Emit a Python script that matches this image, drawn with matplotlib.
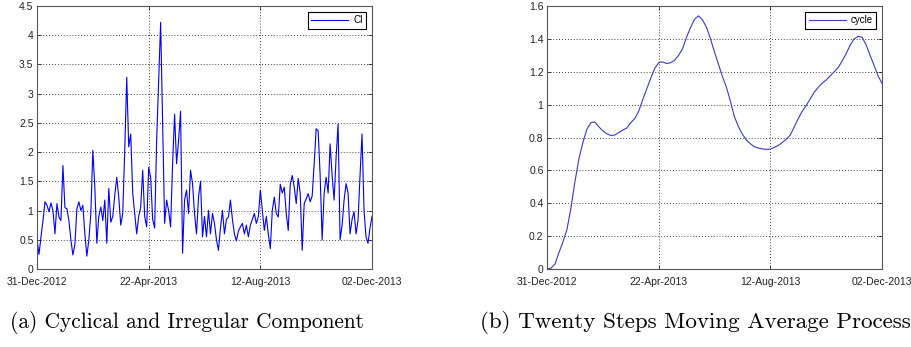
import numpy as np
import pandas as pd
import matplotlib
matplotlib.use("Agg")
import matplotlib.pyplot as plt
import matplotlib.dates as mdates
from matplotlib.ticker import FormatStrFormatter

# cyclical + irregular component, one reading every 2 days from 31-Dec-2012
ci_start = "2012-12-31"
ci_step_days = 2
ci_values = [
    0.5, 0.25, 0.55, 0.83, 1.15, 1.09, 0.98, 1.13, 1.0, 0.6,
    1.12, 0.89, 0.83, 1.77, 1.05, 1.03, 0.83, 0.5, 0.24, 0.42,
    1.03, 1.15, 1.0, 1.09, 0.6, 0.22, 0.5, 0.95, 2.03, 1.4,
    0.44, 0.9, 1.06, 0.83, 1.18, 0.44, 1.38, 0.8, 0.9, 1.26,
    1.57, 1.23, 0.75, 0.95, 2.03, 3.28, 2.09, 2.31, 1.3, 0.95,
    0.6, 0.9, 1.06, 1.69, 0.9, 0.72, 1.74, 1.57,
    0.85, 0.7, 2.2, 3.2, 4.22, 2.5, 0.78, 1.18, 1.0, 0.72,
    1.8, 2.65, 1.8, 2.2, 2.7, 0.27, 1.18, 1.35, 0.95, 1.69,
    1.46, 0.95, 0.6, 1.23, 1.5, 0.55, 0.9, 0.55, 1.0, 0.6,
    0.95, 0.78, 0.5, 0.32, 0.7, 1.0, 0.6, 0.85, 0.89, 1.18,
    0.85, 0.6, 0.48, 0.65, 0.72, 0.78, 0.6, 0.75, 0.55, 0.75,
    0.85, 0.95, 0.78, 0.9, 1.35, 1.0,
    0.66, 0.9, 0.6, 0.35, 1.0, 1.23, 0.95, 0.89, 1.45, 1.3,
    1.4, 0.95, 0.66, 1.45, 1.6, 1.4, 1.12, 1.55, 1.3, 0.32,
    1.12, 1.2, 1.29, 1.15, 1.25, 1.8, 2.4, 2.36, 1.6, 0.5,
    1.3, 1.57, 1.3, 2.14, 1.6, 1.18, 1.91, 2.48, 0.5, 0.75,
    1.18, 1.46, 1.3, 0.6, 0.85, 0.98, 0.6, 0.83, 1.6, 2.31,
    1.0, 0.55, 0.44, 0.7, 0.9,
]

# twenty steps moving average (cycle), one reading every 4 days
cycle_step_days = 4
cycle_values = [
    0.0, 0.005, 0.03, 0.1, 0.165, 0.24, 0.37, 0.53, 0.67, 0.77,
    0.85, 0.89, 0.895, 0.865, 0.84, 0.823, 0.812, 0.815, 0.83, 0.845,
    0.858, 0.89, 0.915, 0.96, 1.03, 1.095, 1.16, 1.22, 1.255, 1.26,
    1.25, 1.255, 1.27, 1.3, 1.34, 1.41, 1.47, 1.52, 1.54, 1.515,
    1.47, 1.4, 1.32, 1.245, 1.17, 1.105, 1.02, 0.926, 0.866, 0.82,
    0.784, 0.762, 0.744, 0.736, 0.73, 0.728, 0.729, 0.74, 0.752, 0.77,
    0.79, 0.815, 0.865, 0.915, 0.96, 0.995, 1.035, 1.075, 1.105, 1.13,
    1.15, 1.175, 1.2, 1.225, 1.265, 1.31, 1.36, 1.4, 1.415, 1.41,
    1.365, 1.3, 1.24, 1.175, 1.13,
]

tick_dates = ["2012-12-31", "2013-04-22", "2013-08-12", "2013-12-02"]
ci_yticks = [0, 0.5, 1, 1.5, 2, 2.5, 3, 3.5, 4, 4.5]
cycle_yticks = [0, 0.2, 0.4, 0.6, 0.8, 1, 1.2, 1.4, 1.6]
captions = ["(a) Cyclical and Irregular Component",
            "(b) Twenty Steps Moving Average Process"]

ci_dates = pd.date_range(ci_start, periods=len(ci_values), freq=f"{ci_step_days}D")
cycle_dates = pd.date_range(ci_start, periods=len(cycle_values), freq=f"{cycle_step_days}D")
ticks = pd.to_datetime(tick_dates)

plt.rcParams["font.family"] = "Liberation Sans"

fig = plt.figure(figsize=(9.12, 3.47), dpi=100)
ax1 = fig.add_axes([37 / 912, 1 - 269 / 347, 335 / 912, 263 / 347])
ax2 = fig.add_axes([547 / 912, 1 - 269 / 347, 335 / 912, 263 / 347])


def style(ax, yticks, fmt):
    ax.set_xlim(ticks[0], ticks[-1])
    ax.set_ylim(yticks[0], yticks[-1])
    ax.set_xticks(ticks)
    ax.xaxis.set_major_formatter(mdates.DateFormatter("%d-%b-%Y"))
    ax.set_yticks(yticks)
    ax.yaxis.set_major_formatter(FormatStrFormatter(fmt))
    ax.tick_params(direction="in", length=3, width=0.6, top=True, right=True,
                   labelsize=7.5, colors="#222222")
    ax.tick_params(axis="x", pad=5.5)
    ax.tick_params(axis="y", pad=2.5)
    ax.grid(True, color="black", linestyle=(0, (1, 2.5)), linewidth=0.6)
    for sp in ax.spines.values():
        sp.set_color("#555555")
        sp.set_linewidth(0.8)
    leg = ax.legend(loc="upper right", fontsize=7, fancybox=False,
                    framealpha=1, edgecolor="black", handlelength=3.8,
                    borderaxespad=0.6, handletextpad=0.5, borderpad=0.35)
    leg.get_frame().set_linewidth(0.8)


ax1.plot(ci_dates, ci_values, color="#0000ff", linewidth=0.8, label="CI")
style(ax1, ci_yticks, "%g")

ax2.plot(cycle_dates, cycle_values, color="#3a3acc", linewidth=0.8, label="cycle")
style(ax2, cycle_yticks, "%g")

fig.text(10 / 912, 1 - 322 / 347, captions[0], fontsize=15.4, family="cmr10",
         ha="left", va="center")
fig.text(480 / 912, 1 - 322 / 347, captions[1], fontsize=16.6, family="cmr10",
         ha="left", va="center")

fig.savefig("out.png", dpi=100)
